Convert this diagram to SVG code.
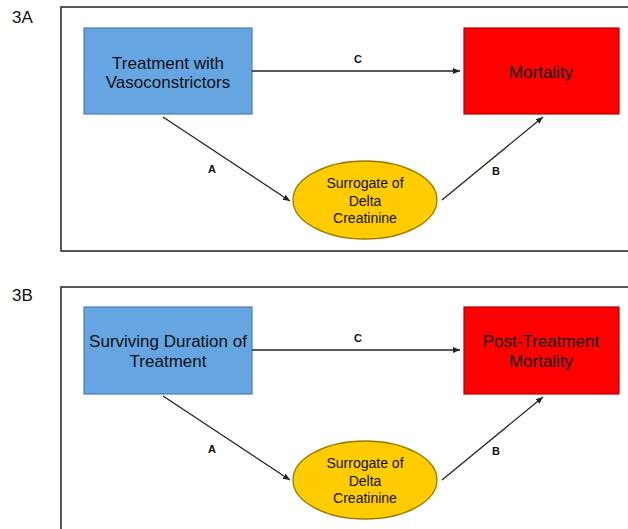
<svg xmlns="http://www.w3.org/2000/svg" width="628" height="529" viewBox="0 0 628 529">
<style>
text{font-family:"Liberation Sans",Arial,sans-serif;fill:#111;text-anchor:middle}
.frame{fill:none;stroke:#222;stroke-width:1.5}
.blue{fill:#64a5e2;stroke:#4a7fb3;stroke-width:1.2}
.red{fill:#ff0000;stroke:#b30000;stroke-width:1.2}
.yel{fill:#ffcc00;stroke:#9c7a00;stroke-width:1.3}
.big{font-size:17px}
.sm{font-size:14px}
.lbl{font-size:11px;font-weight:bold}
.panel{font-size:17px;text-anchor:start}
.con{stroke:#222;stroke-width:1.3;fill:none;marker-end:url(#ah)}
</style>
<defs>
<marker id="ah" markerWidth="8" markerHeight="8" refX="7" refY="4" orient="auto" markerUnits="userSpaceOnUse">
<path d="M0,1 L7,4 L0,7 Z" fill="#222"/>
</marker>
</defs>
<rect width="628" height="529" fill="#fff"/>

<text class="panel" x="12" y="23">3A</text>
<rect class="frame" x="61" y="7" width="580" height="244"/>
<g id="a-treat">
<rect class="blue" x="84" y="28" width="168" height="86"/>
<text class="big" x="168" y="69">Treatment with</text>
<text class="big" x="168" y="88">Vasoconstrictors</text>
</g>
<g id="a-mort">
<rect class="red" x="464" y="28" width="155" height="86"/>
<text class="big" x="541" y="78">Mortality</text>
</g>
<g id="a-surr">
<ellipse class="yel" cx="365" cy="200" rx="72" ry="39"/>
<text class="sm" x="365" y="188">Surrogate of</text>
<text class="sm" x="365" y="206">Delta</text>
<text class="sm" x="365" y="223">Creatinine</text>
</g>
<g id="a-connectors">
<line class="con" x1="252" y1="71" x2="460" y2="71"/>
<line class="con" x1="163" y1="117" x2="290" y2="201"/>
<line class="con" x1="442" y1="200" x2="543" y2="117"/>
<text class="lbl" x="358" y="63">C</text>
<text class="lbl" x="212" y="173">A</text>
<text class="lbl" x="496" y="175">B</text>
</g>

<text class="panel" x="12" y="301">3B</text>
<rect class="frame" x="61" y="287" width="580" height="260"/>
<g id="b-surv">
<rect class="blue" x="84" y="307" width="168" height="87"/>
<text class="big" x="168" y="347">Surviving Duration of</text>
<text class="big" x="168" y="367">Treatment</text>
</g>
<g id="b-mort">
<rect class="red" x="464" y="307" width="155" height="87"/>
<text class="big" x="541" y="347">Post-Treatment</text>
<text class="big" x="541" y="367">Mortality</text>
</g>
<g id="b-surr">
<ellipse class="yel" cx="365" cy="480" rx="72" ry="39"/>
<text class="sm" x="365" y="468">Surrogate of</text>
<text class="sm" x="365" y="486">Delta</text>
<text class="sm" x="365" y="503">Creatinine</text>
</g>
<g id="b-connectors">
<line class="con" x1="252" y1="350" x2="460" y2="350"/>
<line class="con" x1="163" y1="396" x2="290" y2="480"/>
<line class="con" x1="442" y1="480" x2="543" y2="397"/>
<text class="lbl" x="358" y="342">C</text>
<text class="lbl" x="212" y="453">A</text>
<text class="lbl" x="496" y="455">B</text>
</g>
</svg>
